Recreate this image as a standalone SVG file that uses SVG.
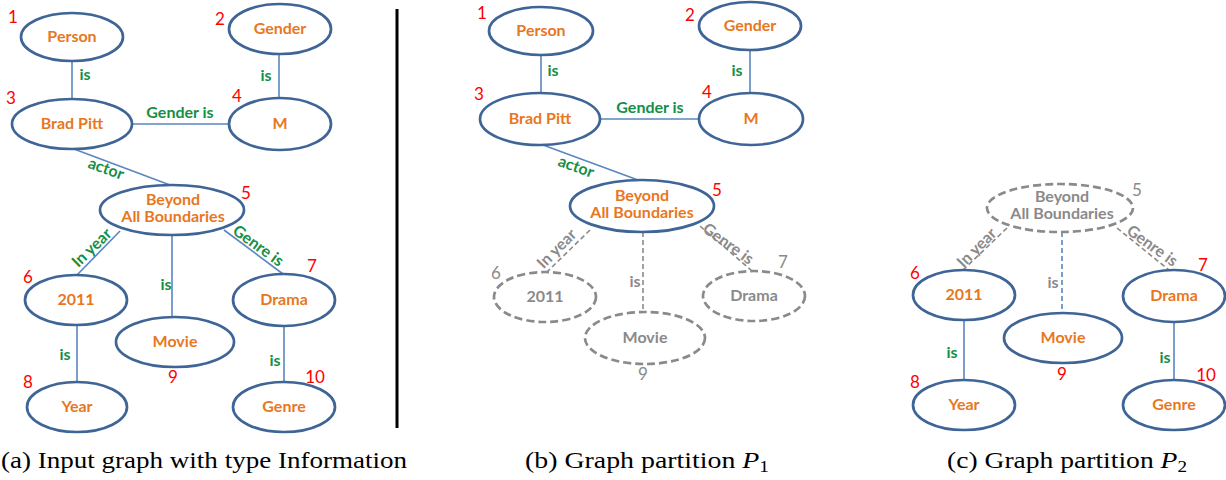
<svg xmlns="http://www.w3.org/2000/svg" width="1226" height="480" viewBox="0 0 1226 480">
<style>
.n{fill:#fff;stroke:#3F6597;stroke-width:2.7}
.nd{fill:#fff;stroke:#8A8A8A;stroke-width:2.7;stroke-dasharray:8 4}
.t{font-family:Lato,"Open Sans",sans-serif;font-weight:700;font-size:16px;fill:#E87722;text-anchor:middle}
.tg{font-family:Lato,"Open Sans",sans-serif;font-weight:700;font-size:16px;fill:#8A8A8A;text-anchor:middle}
.l{font-family:Lato,"Open Sans",sans-serif;font-weight:700;font-size:16px;fill:#158F45;text-anchor:middle}
.lg{font-family:Lato,"Open Sans",sans-serif;font-weight:700;font-size:16px;fill:#8A8A8A;text-anchor:middle}
.num{font-family:Lato,"Open Sans",sans-serif;font-size:17px;fill:#FF0000;text-anchor:middle}
.numg{font-family:Lato,"Open Sans",sans-serif;font-size:17px;fill:#8A8A8A;text-anchor:middle}
.e{stroke:#5B86C0;stroke-width:1.6;fill:none}
.ed{stroke:#8A8A8A;stroke-width:1.6;fill:none;stroke-dasharray:5 3}
.edb{stroke:#5B86C0;stroke-width:1.6;fill:none;stroke-dasharray:5 3}
.cap{font-family:"Liberation Serif","DejaVu Serif",serif;font-size:23px;fill:#000}
</style>

<!-- ===== Panel (a) ===== -->
<g id="a-edges">
<line class="e" x1="72" y1="61" x2="72" y2="99"/>
<line class="e" x1="279" y1="54" x2="279" y2="98"/>
<line class="e" x1="132" y1="124" x2="229" y2="124"/>
<line class="e" x1="74" y1="149" x2="170" y2="185"/>
<line class="e" x1="120" y1="231" x2="77" y2="275"/>
<line class="e" x1="172" y1="235" x2="172" y2="317"/>
<line class="e" x1="224" y1="230" x2="283" y2="274"/>
<line class="e" x1="77" y1="325" x2="77" y2="382"/>
<line class="e" x1="284" y1="326" x2="284" y2="382"/>
<text class="l" x="85" y="80">is</text>
<text class="l" x="266" y="81">is</text>
<text class="l" x="180" y="118">Gender is</text>
<text class="l" transform="translate(106,169) rotate(20)" y="5">actor</text>
<text class="l" transform="translate(92,248) rotate(-44)" y="5">In year</text>
<text class="l" x="166" y="290">is</text>
<text class="l" transform="translate(258,246) rotate(36)" y="5">Genre is</text>
<text class="l" x="65" y="360">is</text>
<text class="l" x="275" y="366">is</text>
</g>
<g id="a-n1"><ellipse class="n" cx="72" cy="37" rx="51" ry="24"/><text class="t" x="72" y="42">Person</text><text class="num" x="13" y="23">1</text></g>
<g id="a-n2"><ellipse class="n" cx="280" cy="29" rx="51" ry="25"/><text class="t" x="280" y="34">Gender</text><text class="num" x="220" y="25">2</text></g>
<g id="a-n3"><ellipse class="n" cx="72" cy="124" rx="60" ry="25"/><text class="t" x="72" y="129">Brad Pitt</text><text class="num" x="11" y="104">3</text></g>
<g id="a-n4"><ellipse class="n" cx="280" cy="124" rx="51" ry="26"/><text class="t" x="280" y="129">M</text><text class="num" x="237" y="102">4</text></g>
<g id="a-n5"><ellipse class="n" cx="172" cy="210" rx="72" ry="25"/><text class="t" x="173" y="205">Beyond</text><text class="t" x="173" y="222">All Boundaries</text><text class="num" x="246" y="199">5</text></g>
<g id="a-n6"><ellipse class="n" cx="76" cy="300" rx="51" ry="25"/><text class="t" x="76" y="305">2011</text><text class="num" x="28" y="283">6</text></g>
<g id="a-n7"><ellipse class="n" cx="284" cy="300" rx="51" ry="26"/><text class="t" x="284" y="305">Drama</text><text class="num" x="312" y="272">7</text></g>
<g id="a-n8"><ellipse class="n" cx="77" cy="407" rx="50" ry="25"/><text class="t" x="77" y="412">Year</text><text class="num" x="28" y="388">8</text></g>
<g id="a-n9"><ellipse class="n" cx="175" cy="342" rx="59" ry="25"/><text class="t" x="175" y="347">Movie</text><text class="num" x="173" y="383">9</text></g>
<g id="a-n10"><ellipse class="n" cx="284" cy="407" rx="51" ry="25"/><text class="t" x="284" y="412">Genre</text><text class="num" x="315" y="383">10</text></g>

<line x1="397" y1="9" x2="397" y2="428" stroke="#000" stroke-width="3"/>

<!-- ===== Panel (b) ===== -->
<g id="b-edges">
<line class="e" x1="541" y1="55" x2="541" y2="93"/>
<line class="e" x1="750" y1="50" x2="750" y2="93"/>
<line class="e" x1="600" y1="119" x2="699" y2="119"/>
<line class="e" x1="543" y1="145" x2="638" y2="180"/>
<line class="ed" x1="590" y1="230" x2="547" y2="272"/>
<line class="ed" x1="643" y1="232" x2="643" y2="312"/>
<line class="ed" x1="700" y1="226" x2="752" y2="271"/>
<text class="l" x="553" y="76">is</text>
<text class="l" x="737" y="76">is</text>
<text class="l" x="650" y="113">Gender is</text>
<text class="l" transform="translate(576,167) rotate(20)" y="5">actor</text>
<text class="lg" transform="translate(557,249) rotate(-45)" y="5">In year</text>
<text class="lg" x="635" y="287">is</text>
<text class="lg" transform="translate(728,244) rotate(36)" y="5">Genre is</text>
</g>
<g id="b-n1"><ellipse class="n" cx="541" cy="31" rx="52" ry="24"/><text class="t" x="541" y="36">Person</text><text class="num" x="482" y="19">1</text></g>
<g id="b-n2"><ellipse class="n" cx="750" cy="26" rx="51" ry="24"/><text class="t" x="750" y="31">Gender</text><text class="num" x="690" y="21">2</text></g>
<g id="b-n3"><ellipse class="n" cx="540" cy="119" rx="60" ry="26"/><text class="t" x="540" y="124">Brad Pitt</text><text class="num" x="479" y="100">3</text></g>
<g id="b-n4"><ellipse class="n" cx="751" cy="119" rx="52" ry="26"/><text class="t" x="751" y="124">M</text><text class="num" x="707" y="98">4</text></g>
<g id="b-n5"><ellipse class="n" cx="642" cy="206" rx="72" ry="26"/><text class="t" x="642" y="201">Beyond</text><text class="t" x="642" y="218">All Boundaries</text><text class="num" x="717" y="196">5</text></g>
<g id="b-n6"><ellipse class="nd" cx="545" cy="297" rx="51" ry="25"/><text class="tg" x="545" y="302">2011</text><text class="numg" x="496" y="279">6</text></g>
<g id="b-n7"><ellipse class="nd" cx="754" cy="296" rx="51" ry="25"/><text class="tg" x="754" y="301">Drama</text><text class="numg" x="783" y="268">7</text></g>
<g id="b-n9"><ellipse class="nd" cx="645" cy="338" rx="60" ry="26"/><text class="tg" x="645" y="343">Movie</text><text class="numg" x="643" y="380">9</text></g>

<!-- ===== Panel (c) ===== -->
<g id="c-edges">
<line class="ed" x1="1007" y1="228" x2="963" y2="270"/>
<line class="edb" x1="1062" y1="232" x2="1062" y2="313"/>
<line class="ed" x1="1117" y1="228" x2="1169" y2="270"/>
<line class="e" x1="964" y1="320" x2="964" y2="380"/>
<line class="e" x1="1174" y1="322" x2="1174" y2="380"/>
<text class="lg" transform="translate(977,248) rotate(-45)" y="5">In year</text>
<text class="lg" x="1053" y="288">is</text>
<text class="lg" transform="translate(1152,246) rotate(36)" y="5">Genre is</text>
<text class="l" x="952" y="358">is</text>
<text class="l" x="1165" y="363">is</text>
</g>
<g id="c-n5"><ellipse class="nd" cx="1060" cy="208" rx="73" ry="24"/><text class="tg" x="1062" y="202">Beyond</text><text class="tg" x="1062" y="219">All Boundaries</text><text class="numg" x="1137" y="196">5</text></g>
<g id="c-n6"><ellipse class="n" cx="964" cy="295" rx="51" ry="25"/><text class="t" x="964" y="300">2011</text><text class="num" x="915" y="279">6</text></g>
<g id="c-n7"><ellipse class="n" cx="1174" cy="296" rx="51" ry="26"/><text class="t" x="1174" y="301">Drama</text><text class="num" x="1203" y="271">7</text></g>
<g id="c-n8"><ellipse class="n" cx="964" cy="405" rx="51" ry="25"/><text class="t" x="964" y="410">Year</text><text class="num" x="915" y="388">8</text></g>
<g id="c-n9"><ellipse class="n" cx="1063" cy="338" rx="59" ry="25"/><text class="t" x="1063" y="343">Movie</text><text class="num" x="1062" y="380">9</text></g>
<g id="c-n10"><ellipse class="n" cx="1174" cy="405" rx="51" ry="25"/><text class="t" x="1174" y="410">Genre</text><text class="num" x="1206" y="381">10</text></g>

<!-- captions -->
<text class="cap" x="1" y="468" textLength="406" lengthAdjust="spacingAndGlyphs">(a) Input graph with type Information</text>
<text class="cap" x="525" y="468" textLength="244" lengthAdjust="spacingAndGlyphs">(b) Graph partition <tspan font-style="italic">P</tspan><tspan font-size="16" dy="4">1</tspan></text>
<text class="cap" x="947" y="468" textLength="240" lengthAdjust="spacingAndGlyphs">(c) Graph partition <tspan font-style="italic">P</tspan><tspan font-size="16" dy="4">2</tspan></text>
</svg>
